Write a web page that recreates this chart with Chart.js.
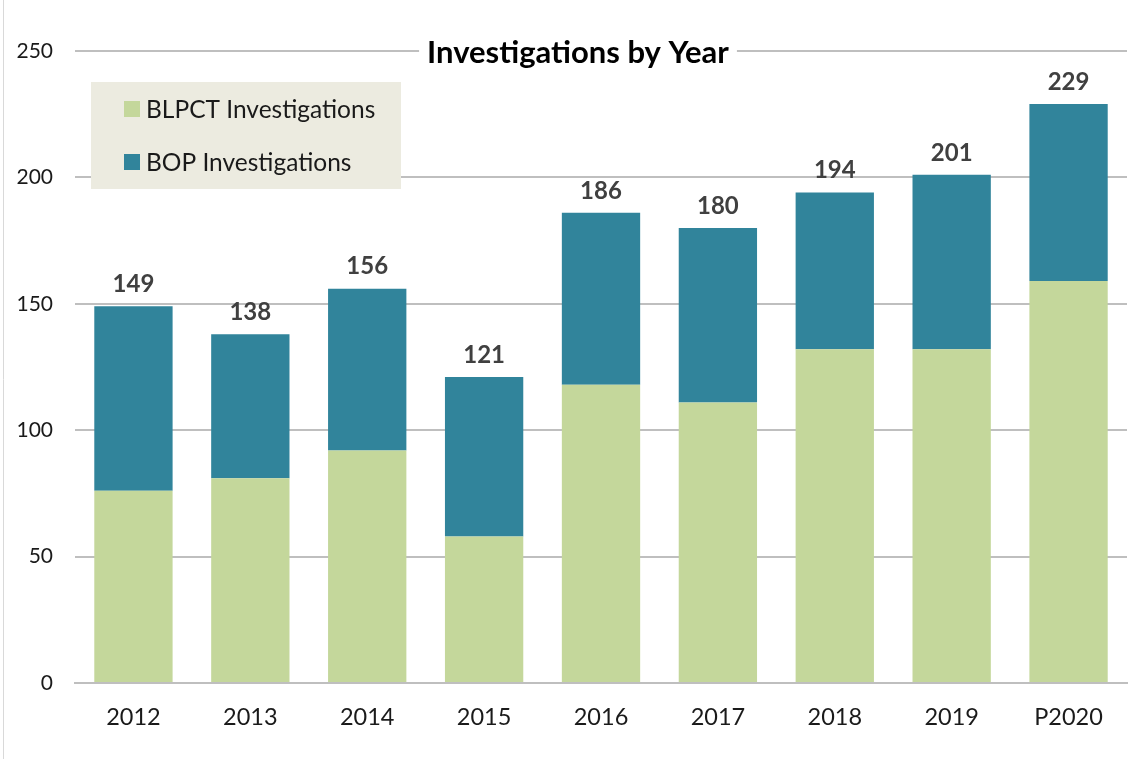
<!DOCTYPE html>
<html>
<head>
<meta charset="utf-8">
<script src="https://cdn.jsdelivr.net/npm/chart.js@4/dist/chart.umd.min.js"></script>
<style>
  html, body { margin: 0; padding: 0; background: #fff; }
  #wrap { width: 1130px; height: 759px; }
</style>
</head>
<body>
<div id="wrap"><canvas id="grafico"></canvas></div>
<script>
const years = ["2012", "2013", "2014", "2015", "2016", "2017", "2018", "2019", "P2020"];
const blpct = [76, 81, 92, 58, 118, 111, 132, 132, 159];
const bop = [73, 57, 64, 63, 68, 69, 62, 69, 70];
const totals = [149, 138, 156, 121, 186, 180, 194, 201, 229];
const yTicks = [0, 50, 100, 150, 200, 250];

const FONT = "Lato, 'Open Sans', sans-serif";

// totals above each stack, title over the top gridline, legend box inside plot
const extras = {
    id: "extras",
    afterDraw(chart) {
        const ctx = chart.ctx;
        const x = chart.scales.x, y = chart.scales.y;
        ctx.save();

        // left frame line
        ctx.strokeStyle = "#D9D9D9";
        ctx.lineWidth = 1;
        ctx.beginPath();
        ctx.moveTo(3.5, 0);
        ctx.lineTo(3.5, 759);
        ctx.stroke();

        // totals
        ctx.font = "bold 24px " + FONT;
        ctx.fillStyle = "#404040";
        ctx.textAlign = "center";
        ctx.textBaseline = "bottom";
        totals.forEach((t, i) => {
            ctx.fillText(String(t), x.getPixelForValue(i), y.getPixelForValue(t) - 10);
        });

        // title
        ctx.font = "bold 31px " + FONT;
        const title = "Investigations by Year";
        const tw = ctx.measureText(title).width;
        const cx = 578, cy = y.getPixelForValue(250);
        ctx.fillStyle = "#fff";
        ctx.fillRect(cx - tw / 2 - 8, cy - 20, tw + 16, 40);
        ctx.fillStyle = "#000";
        ctx.textBaseline = "middle";
        ctx.fillText(title, cx, cy + 2);

        // legend
        ctx.fillStyle = "#ECEBE0";
        ctx.fillRect(91, 82, 310, 107);
        ctx.font = "24.5px " + FONT;
        ctx.textAlign = "left";
        chart.data.datasets.forEach((ds, i) => {
            const ly = 109 + i * 53;
            ctx.fillStyle = ds.backgroundColor;
            ctx.fillRect(124, ly - 8, 16, 16);
            ctx.fillStyle = "#1a1a1a";
            ctx.fillText(ds.label, 146, ly + 1);
        });
        ctx.restore();
    }
};

new Chart(document.getElementById("grafico"), {
    type: "bar",
    data: {
        labels: years,
        datasets: [
            { label: "BLPCT Investigations", data: blpct, backgroundColor: "#C4D79B", stack: "s" },
            { label: "BOP Investigations", data: bop, backgroundColor: "#31849B", stack: "s" }
        ]
    },
    options: {
        responsive: true,
        maintainAspectRatio: false,
        animation: false,
        categoryPercentage: 0.67,
        barPercentage: 1,
        layout: { padding: { top: 51, right: 3, left: 0, bottom: 0 } },
        plugins: { legend: { display: false }, tooltip: { enabled: false } },
        scales: {
            x: {
                stacked: true,
                grid: { display: false, drawTicks: false },
                border: { display: true, color: "#BFBFBF", width: 2 },
                ticks: { color: "#1a1a1a", font: { family: FONT, size: 23.5 }, padding: 20 },
                afterFit(s) { s.height = 76; }
            },
            y: {
                stacked: true,
                min: 0,
                max: 250,
                afterBuildTicks(s) { s.ticks = yTicks.map(v => ({ value: v })); },
                grid: { color: "#BFBFBF", lineWidth: 2, drawTicks: false },
                border: { display: false },
                ticks: { color: "#1a1a1a", font: { family: FONT, size: 21 }, padding: 22 },
                afterFit(s) { s.width = 75; }
            }
        }
    },
    plugins: [extras]
});
</script>
</body>
</html>
